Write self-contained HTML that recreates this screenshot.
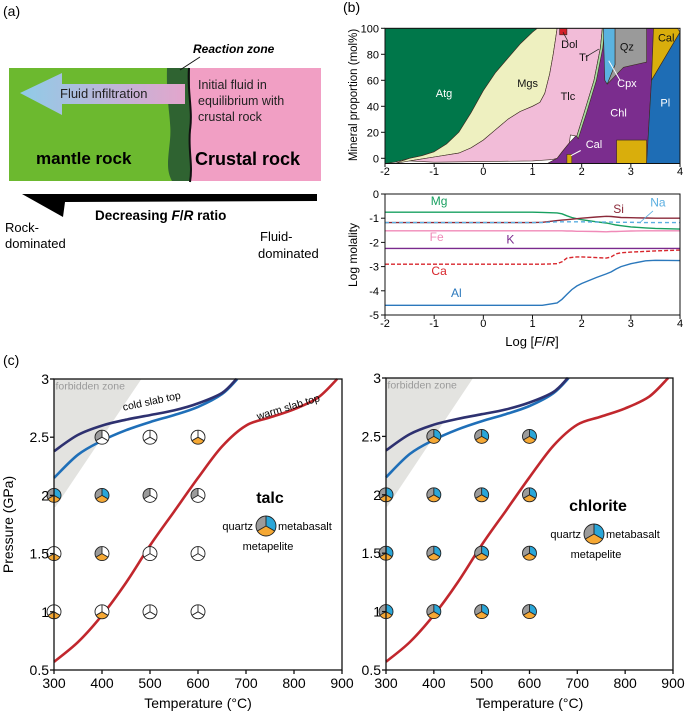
<!DOCTYPE html>
<html><head><meta charset="utf-8">
<style>
body{margin:0;background:#fff;}
svg{display:block;font-family:"Liberation Sans",Arial,sans-serif;}
</style></head>
<body>
<svg id="fig" width="685" height="722" viewBox="0 0 685 722" xmlns="http://www.w3.org/2000/svg">
<defs>
<linearGradient id="arrg" x1="0" x2="1" y1="0" y2="0">
<stop offset="0" stop-color="#8fcbe8"/><stop offset="1" stop-color="#e3a5cc"/>
</linearGradient>
</defs>
<g>
<text x="3" y="16" font-size="14">(a)</text>
<rect x="9" y="68" width="178" height="113" fill="#6cb92f"/>
<rect x="188" y="68" width="133" height="113" fill="#f19fc4"/>
<path d="M167,68 L190,68 L190,181 L172,181 C166,170 168,160 170,140 C172,120 166,105 167,68 Z" fill="#2f6331"/>
<path d="M189,68 C187,90 193,110 190,130 C188,150 193,165 190,182" fill="none" stroke="#111" stroke-width="2"/>
<line x1="180" y1="70" x2="200" y2="57" stroke="#111" stroke-width="1"/>
<text x="193" y="53" font-size="12" font-weight="bold" font-style="italic">Reaction zone</text>
<path d="M20,93 L62,73 L62,84 L185,84 L185,104 L62,104 L62,115 Z" fill="url(#arrg)"/>
<text x="60" y="98" font-size="13" fill="#222">Fluid infiltration</text>
<text x="198" y="89" font-size="12.5" fill="#222"><tspan x="198">Initial fluid in</tspan><tspan x="198" dy="16">equilibrium with</tspan><tspan x="198" dy="16">crustal rock</tspan></text>
<text x="36" y="164" font-size="17" font-weight="bold">mantle rock</text>
<text x="195" y="165" font-size="18" font-weight="bold">Crustal rock</text>
<polygon points="22,194 317,194 317,201 65,202 63,217" fill="#000"/>
<text x="95" y="220" font-size="13.5" font-weight="bold">Decreasing <tspan font-style="italic">F</tspan>/<tspan font-style="italic">R</tspan> ratio</text>
<text x="5" y="232" font-size="13"><tspan x="5">Rock-</tspan><tspan x="5" dy="16">dominated</tspan></text>
<text x="260" y="241" font-size="13"><tspan x="260">Fluid-</tspan><tspan x="258" dy="17">dominated</tspan></text>
</g>
<text x="343" y="12" font-size="14">(b)</text>
<text x="3" y="365" font-size="14">(c)</text>
<g id="gb"></g>
<g id="gc"></g>
</svg>
<script>
// ===== Panel (b) top: mineral proportion polygons (data coords: logFR, mol%) =====
const atgPoly=[[-2,-4],[-2,100],[1.1,100],[1,97],[0.75,88],[0.5,77],[0.25,66],[0,52],[-0.25,35],[-0.5,20],[-0.75,11],[-1,5],[-1.25,2],[-1.5,0],[-1.8,-3],[-2,-4]];
const mgsPoly=[[-1.8,-4],[-1.5,0],[-1.25,2],[-1,5],[-0.75,11],[-0.5,20],[-0.25,35],[0,52],[0.25,66],[0.5,77],[0.75,88],[1,97],[1.1,100],[1.5,100],[1.47,92],[1.42,80],[1.35,65],[1.25,50],[1.15,43],[1,40],[0.75,36],[0.5,30],[0.25,22],[0,14],[-0.25,8],[-0.5,4],[-1,1],[-1.5,-2]];
const chlPoly=[[1.3,-4],[3.32,-4],[3.42,60],[3.46,100],[2.4,100],[2.3,60],[1.9,18],[1.75,12],[1.5,0],[1.4,-2]];
const tlcPoly=[[-1.5,-2],[-1,1],[-0.5,4],[-0.25,8],[0,14],[0.25,22],[0.5,30],[0.75,36],[1,40],[1.15,43],[1.25,50],[1.35,65],[1.42,80],[1.47,92],[1.5,100],[2.42,100],[2.38,85],[2.25,60],[2.05,35],[1.9,17],[1.77,18],[1.75,12],[1.6,5],[1.5,0],[1.4,-1],[1,-2],[0,-2.5],[-1,-3]];
const trPoly=[[2.42,100],[2.47,100],[2.43,85],[2.3,60],[2.1,35],[1.93,15],[1.9,17],[2.05,35],[2.25,60],[2.38,85]];
const dolPoly=[[1.55,100],[1.7,100],[1.7,95],[1.55,95]];
const cpxPoly=[[2.44,100],[2.68,100],[2.68,72],[2.52,57],[2.47,60]];
const qzPoly=[[2.68,100],[3.32,100],[3.32,74],[2.85,70],[2.52,57],[2.68,72]];
const calLowPoly=[[2.71,-4],[2.71,14],[3.32,14],[3.32,-4]];
const calSmallPoly=[[1.7,-4],[1.7,3],[1.8,3],[1.8,-4]];
const calTopPoly=[[3.42,60],[3.46,100],[3.95,100],[4,97]];
const plPoly=[[3.32,-4],[4,-4],[4,97],[3.42,60]];
const mineralNames=['atg','mgs','chl','tlc','tr','dol','cpx','qz','cal-low','cal-small','cal-top','pl'];
const mineralPolys=[atgPoly,mgsPoly,chlPoly,tlcPoly,trPoly,dolPoly,cpxPoly,qzPoly,calLowPoly,calSmallPoly,calTopPoly,plPoly];
const mineralColors=['#00774a','#eef0c0','#7b2d8e','#f2bcd8','#a8dca0','#d4202a','#5bb3e0','#9a9a9a','#d9ae0c','#d9ae0c','#d9ae0c','#1e6db5'];
const mineralLabels=['Atg','Mgs','Tlc','Chl','Dol','Tr','Qz','Cal','Cpx','Pl','Cal'];
const mineralLabelPos=[[-0.8,47],[0.9,55],[1.72,45],[2.75,32],[1.75,85],[2.05,75],[2.92,83],[3.72,90],[2.92,55],[3.7,40],[2.25,8]];
const mineralLabelWhite=[1,0,0,1,0,0,0,0,1,1,1];
const xTicksB=[-2,-1,0,1,2,3,4];
const yTicksTop=[0,20,40,60,80,100];
// ===== Panel (b) bottom: log molality =====
const frGrid=[-2,-1,0,1,1.2,1.5,1.6,1.7,1.8,1.9,2,2.3,2.5,2.6,2.7,2.8,3,3.3,3.5,4];
const mgVals=[-0.75,-0.75,-0.75,-0.75,-0.76,-0.78,-0.82,-0.9,-0.97,-1.02,-1.06,-1.15,-1.2,-1.24,-1.28,-1.31,-1.36,-1.4,-1.42,-1.45];
const siVals=[-1.18,-1.18,-1.18,-1.18,-1.17,-1.1,-1.08,-1.06,-1.04,-1.02,-1.0,-0.95,-0.92,-0.93,-0.95,-0.97,-0.98,-0.99,-1.0,-1.0];
const naVals=[-1.18,-1.18,-1.18,-1.18,-1.18,-1.15,-1.15,-1.15,-1.15,-1.15,-1.15,-1.16,-1.16,-1.16,-1.17,-1.17,-1.17,-1.18,-1.18,-1.18];
const feVals=[-1.52,-1.52,-1.52,-1.52,-1.52,-1.52,-1.52,-1.53,-1.53,-1.54,-1.54,-1.55,-1.56,-1.55,-1.55,-1.54,-1.53,-1.52,-1.52,-1.52];
const kVals=[-2.25,-2.25,-2.25,-2.25,-2.25,-2.25,-2.25,-2.25,-2.25,-2.25,-2.25,-2.25,-2.25,-2.25,-2.25,-2.25,-2.25,-2.25,-2.25,-2.25];
const caVals=[-2.9,-2.9,-2.9,-2.9,-2.9,-2.88,-2.8,-2.65,-2.62,-2.6,-2.6,-2.63,-2.65,-2.6,-2.47,-2.43,-2.4,-2.37,-2.35,-2.32];
const alVals=[-4.6,-4.6,-4.6,-4.6,-4.6,-4.5,-4.35,-4.15,-3.95,-3.8,-3.7,-3.45,-3.3,-3.22,-3.1,-3.0,-2.88,-2.76,-2.74,-2.75];
const elemNames=['mg','si','na','fe','k','ca','al'];
const elemSeries=[mgVals,siVals,naVals,feVals,kVals,caVals,alVals];
const elemColors=['#18a060','#8b2a3a','#5aaee0','#f08ab8','#7a2a8e','#d8262c','#2b78bc'];
const elemDash=['','','4,3','','','4,2',''];
const elemLabels=['Mg','Si','Na','Fe','K','Ca','Al'];
const elemLabelPos=[[-0.9,-0.45],[2.75,-0.78],[3.55,-0.52],[-0.95,-1.95],[0.55,-2.05],[-0.9,-3.35],[-0.55,-4.25]];
const yTicksBot=[0,-1,-2,-3,-4,-5];
// ===== Panel (c) =====
const temps=[300,400,500,600];
const pressures=[1,1.5,2,2.5];
const talcQuartz=[[0,0,1,null],[0,1,1,1],[0,0,1,0],[0,0,1,0]];
const talcMetabasalt=[[0,0,1,null],[0,0,1,0],[0,0,0,0],[0,0,0,0]];
const talcMetapelite=[[1,1,1,null],[1,1,1,0],[0,0,0,0],[0,0,0,1]];
const chlQuartz=[[1,1,1,null],[1,1,1,1],[1,1,1,1],[1,1,1,1]];
const chlMetabasalt=[[1,1,1,null],[1,1,1,1],[1,1,1,1],[1,1,1,1]];
const chlMetapelite=[[1,1,1,null],[1,1,1,1],[1,1,1,1],[1,1,1,1]];
const coldT=[300,350,400,450,500,550,600,650,680];
const coldP=[2.38,2.52,2.6,2.65,2.69,2.73,2.79,2.88,3.0];
const blueT=[300,350,400,450,500,550,600,650,682];
const blueP=[2.15,2.35,2.47,2.56,2.63,2.69,2.76,2.87,3.0];
const warmT=[300,350,400,450,500,550,600,650,700,750,800,850,890];
const warmP=[0.57,0.74,0.97,1.25,1.57,1.86,2.15,2.42,2.6,2.67,2.74,2.84,3.0];
const forbidT=[300,482,303,300];
const forbidP=[3,3,1.9,1.9];
const xTicksC=[300,400,500,600,700,800,900];
const yTicksC=[0.5,1,1.5,2,2.5,3];
const yTickLabelsC=['0.5','1','1.5','2','2.5','3'];

const NS='http://www.w3.org/2000/svg';
function mk(tag,attrs,parent){const e=document.createElementNS(NS,tag);for(const k in attrs)e.setAttribute(k,attrs[k]);parent.appendChild(e);return e;}
function smooth(pts){let d='M'+pts[0][0].toFixed(1)+','+pts[0][1].toFixed(1);
 for(let i=0;i<pts.length-1;i++){const p0=pts[i-1]||pts[i],p1=pts[i],p2=pts[i+1],p3=pts[i+2]||p2;
  const c1=[p1[0]+(p2[0]-p0[0])/6,p1[1]+(p2[1]-p0[1])/6],c2=[p2[0]-(p3[0]-p1[0])/6,p2[1]-(p3[1]-p1[1])/6];
  d+=' C'+c1[0].toFixed(1)+','+c1[1].toFixed(1)+' '+c2[0].toFixed(1)+','+c2[1].toFixed(1)+' '+p2[0].toFixed(1)+','+p2[1].toFixed(1);}
 return d;}

const gb=document.getElementById('gb');
const xb=v=>385+(v+2)*49.17;
const ybt=p=>158.3-p*1.3;
const ybb=v=>194-v*24.2;
for(let i=0;i<mineralPolys.length;i++){
 const pts=mineralPolys[i].map(q=>xb(q[0]).toFixed(1)+','+ybt(q[1]).toFixed(1)).join(' ');
 const pg=mk('polygon',{points:pts,fill:mineralColors[i],stroke:'#3a2a20','stroke-width':0.6,'stroke-linejoin':'round'},gb);
 
 
}
for(let i=0;i<mineralLabels.length;i++){
 const t=mk('text',{x:xb(mineralLabelPos[i][0]),y:ybt(mineralLabelPos[i][1]),'font-size':11,'text-anchor':'middle',fill:mineralLabelWhite[i]?'#fff':'#111'},gb);
 t.textContent=mineralLabels[i];
 
 
}
const l1=mk('line',{x1:xb(2.08),y1:ybt(78),x2:xb(2.35),y2:ybt(84),stroke:'#222','stroke-width':0.7},gb);


const l2=mk('line',{x1:xb(2.55),y1:ybt(75),x2:xb(2.78),y2:ybt(60),stroke:'#fff','stroke-width':1},gb);


const l3=mk('line',{x1:xb(1.78),y1:ybt(2),x2:xb(1.98),y2:ybt(6),stroke:'#fff','stroke-width':1},gb);


const l4=mk('line',{x1:xb(1.62),y1:ybt(97),x2:xb(1.72),y2:ybt(90),stroke:'#222','stroke-width':0.7},gb);


const fr1=mk('rect',{x:385,y:28.3,width:295,height:135.2,fill:'none',stroke:'#111','stroke-width':1},gb);


for(const v of yTicksTop){
 const tk=mk('line',{x1:381,x2:385,y1:ybt(v),y2:ybt(v),stroke:'#111'},gb);
 
 
 const t=mk('text',{x:379,y:ybt(v)+4,'font-size':11,'text-anchor':'end'},gb);
 t.textContent=v;
 
 
}
for(const v of xTicksB){
 const tk=mk('line',{x1:xb(v),x2:xb(v),y1:163.5,y2:167,stroke:'#111'},gb);
 
 
 const t=mk('text',{x:xb(v),y:175,'font-size':11,'text-anchor':'middle'},gb);
 t.textContent=v;
 
 
}
const yt1=mk('text',{x:0,y:0,'font-size':11.5,'text-anchor':'middle',transform:'translate(357,95) rotate(-90)'},gb);
yt1.textContent='Mineral proportion (mol%)';


for(let i=0;i<elemSeries.length;i++){
 const pts=frGrid.map((x,j)=>[xb(x),ybb(elemSeries[i][j])]);
 const ln=mk('path',{d:'M'+pts.map(p=>p[0].toFixed(1)+','+p[1].toFixed(1)).join(' L'),fill:'none',stroke:elemColors[i],'stroke-width':1.4,'stroke-dasharray':elemDash[i]},gb);
 
 
 const t=mk('text',{x:xb(elemLabelPos[i][0]),y:ybb(elemLabelPos[i][1]),'font-size':12,'text-anchor':'middle',fill:elemColors[i]},gb);
 t.textContent=elemLabels[i];
 
 
}
const nl=mk('line',{x1:xb(3.2),y1:ybb(-1.15),x2:xb(3.45),y2:ybb(-0.7),stroke:'#5aaee0','stroke-width':0.8},gb);


const fr2=mk('rect',{x:385,y:194,width:295,height:121,fill:'none',stroke:'#111','stroke-width':1},gb);


for(const v of yTicksBot){
 const tk=mk('line',{x1:381,x2:385,y1:ybb(v),y2:ybb(v),stroke:'#111'},gb);
 
 
 const t=mk('text',{x:379,y:ybb(v)+4,'font-size':11,'text-anchor':'end'},gb);
 t.textContent=v;
 
 
}
for(const v of xTicksB){
 const tk=mk('line',{x1:xb(v),x2:xb(v),y1:315,y2:319,stroke:'#111'},gb);
 
 
 const t=mk('text',{x:xb(v),y:327,'font-size':11,'text-anchor':'middle'},gb);
 t.textContent=v;
 
 
}
const yt2=mk('text',{x:0,y:0,'font-size':12,'text-anchor':'middle',transform:'translate(357,255) rotate(-90)'},gb);
yt2.textContent='Log molality';


const xt2=mk('text',{x:532,y:346,'font-size':13,'text-anchor':'middle'},gb);
xt2.innerHTML='Log [<tspan font-style="italic">F</tspan>/<tspan font-style="italic">R</tspan>]';



const gc=document.getElementById('gc');
const colQ='#9b9b9b',colB='#2aa6d8',colP='#f5a834';
function sector(g,cx,cy,r,a0,a1,fill,name){
 const p=a=>[cx+r*Math.sin(a*Math.PI/180),cy-r*Math.cos(a*Math.PI/180)];
 const s=p(a0),e=p(a1);
 const sec=mk('path',{d:`M${cx},${cy} L${s[0].toFixed(2)},${s[1].toFixed(2)} A${r},${r} 0 0 1 ${e[0].toFixed(2)},${e[1].toFixed(2)} Z`,fill:fill,stroke:'none'},g);
 
 
}
function pie(g,cx,cy,r,q,b,m,name){
 const pg=mk('g',{},g);
 
 
 sector(pg,cx,cy,r,0,120,b?colB:'#fff','metabasalt-sector');
 sector(pg,cx,cy,r,120,240,m?colP:'#fff','metapelite-sector');
 sector(pg,cx,cy,r,240,360,q?colQ:'#fff','quartz-sector');
 const c=mk('circle',{cx:cx,cy:cy,r:r,fill:'none',stroke:'#222','stroke-width':0.9},pg);
 
 
 for(const a of [0,120,240]){
  const ln=mk('line',{x1:cx,y1:cy,x2:cx+r*Math.sin(a*Math.PI/180),y2:cy-r*Math.cos(a*Math.PI/180),stroke:'#222','stroke-width':0.9},pg);
  
  
 }
}
function panel(x0,y0,xs,ys,Q,B,M,title,tx,ty,showLabels,showYTitle,key){
 const g=mk('g',{},gc);
 
 
 const X=T=>x0+(T-300)*xs, Y=P=>y0+(3-P)*ys;
 const fz=mk('polygon',{points:forbidT.map((t,i)=>X(t)+','+Y(forbidP[i])).join(' '),fill:'#e3e3e0'},g);
 
 
 const fzt=mk('text',{x:X(303),y:Y(2.91),'font-size':10.5,fill:'#9a9a9a'},g);
 fzt.textContent='forbidden zone';
 
 
 const curves=[[warmT,warmP,'#c1272d','warm-slab-top-curve'],[blueT,blueP,'#1f6fb8','slab-top-curve-blue'],[coldT,coldP,'#2e3170','cold-slab-top-curve']];
 for(const c of curves){
  const pth=mk('path',{d:smooth(c[0].map((t,i)=>[X(t),Y(c[1][i])])),fill:'none',stroke:c[2],'stroke-width':2.6},g);
  
  
 }
 if(showLabels){
  const a=mk('text',{x:0,y:0,'font-size':10.5,'text-anchor':'middle',transform:`translate(${X(505)},${Y(2.78)}) rotate(-12)`},g);
  a.textContent='cold slab top';
  
  
  const b=mk('text',{x:0,y:0,'font-size':10.5,'text-anchor':'middle',transform:`translate(${X(790)},${Y(2.73)}) rotate(-17)`},g);
  b.textContent='warm slab top';
  
  
 }
 for(let i=0;i<temps.length;i++)for(let j=0;j<pressures.length;j++){
  if(Q[i][j]===null)continue;
  pie(g,X(temps[i]),Y(pressures[j]),7,Q[i][j],B[i][j],M[i][j],'pie-'+temps[i]+'c-'+pressures[j]+'gpa');
 }
 const fr=mk('rect',{x:X(300),y:Y(3),width:X(900)-X(300),height:Y(0.5)-Y(3),fill:'none',stroke:'#111','stroke-width':1.3},g);
 
 
 for(let k=0;k<yTicksC.length;k++){
  const v=yTicksC[k];
  const tk=mk('line',{x1:X(300)-4,x2:X(300),y1:Y(v),y2:Y(v),stroke:'#111','stroke-width':1.3},g);
  
  
  const t=mk('text',{x:X(300)-5,y:Y(v)+5,'font-size':14,'text-anchor':'end'},g);
  t.textContent=yTickLabelsC[k];
  
  
 }
 for(const v of xTicksC){
  const tk=mk('line',{x1:X(v),x2:X(v),y1:Y(0.5),y2:Y(0.5)+4,stroke:'#111','stroke-width':1.3},g);
  
  
  const t=mk('text',{x:X(v),y:Y(0.5)+18,'font-size':14,'text-anchor':'middle'},g);
  t.textContent=v;
  
  
 }
 const xt=mk('text',{x:X(600),y:Y(0.5)+38,'font-size':14,'text-anchor':'middle'},g);
 xt.textContent='Temperature (°C)';
 
 
 if(showYTitle){
  const yt=mk('text',{x:0,y:0,'font-size':14,'text-anchor':'middle',transform:`translate(13,${(Y(3)+Y(0.5))/2}) rotate(-90)`},g);
  yt.textContent='Pressure (GPa)';
  
  
 }
 const tt=mk('text',{x:tx,y:ty,'font-size':16,'font-weight':'bold','text-anchor':'middle'},g);
 tt.textContent=title;
 
 
 pie(g,tx-4,ty+23,10,1,1,1,'legend-pie-'+key);
 const q=mk('text',{x:tx-17,y:ty+27,'font-size':11,'text-anchor':'end'},g);
 q.textContent='quartz';
 
 
 const b=mk('text',{x:tx+8,y:ty+27,'font-size':11},g);
 b.textContent='metabasalt';
 
 
 const m=mk('text',{x:tx-2,y:ty+47,'font-size':11,'text-anchor':'middle'},g);
 m.textContent='metapelite';
 
 
}
panel(54,379,0.48,116.4,talcQuartz,talcMetabasalt,talcMetapelite,'talc',270,503,true,true,'talc');
panel(386,378,0.4783,116.8,chlQuartz,chlMetabasalt,chlMetapelite,'chlorite',598,511,false,false,'chlorite');
</script>
</body></html>
